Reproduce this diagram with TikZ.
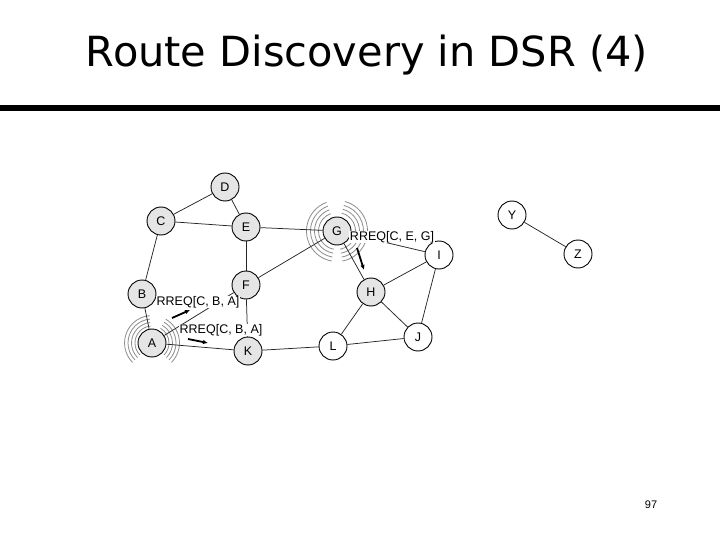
\documentclass[tikz,border=0pt]{standalone}
\usepackage{fontspec}
\setmainfont{Liberation Sans}
\newfontfamily\titlefont{DejaVu Sans}
\usetikzlibrary{arrows.meta}
\begin{document}
\begin{tikzpicture}[x=1pt,y=-1pt,
  nd/.style={circle,draw=black,line width=0.9pt,minimum size=28pt,inner sep=0pt,
    font=\fontsize{12.5}{12.5}\selectfont,fill=white},
  gnd/.style={nd,fill=black!10},
  ed/.style={line width=0.75pt,draw=black!85},
  lab/.style={font=\fontsize{12.5}{13}\selectfont,fill=white,inner sep=0.6pt},
  ring/.style={draw=black!45,line width=0.8pt},
  arr/.style={-{Latex[length=5pt,width=4.5pt]},line width=1.8pt}]
\useasboundingbox (0,0) rectangle (720,540);

% title and rule
\node[anchor=base,font=\titlefont\fontsize{41.5}{44}\selectfont] (title) at (367,67) {Route Discovery in DSR (4)};
\draw[line width=6pt] (0,108) -- (720,108);
\node[font=\fontsize{11}{12}\selectfont] (pg) at (651,505) {97};

% broadcast rings
\foreach \r in {17,20.5,24,27.5}{
  \draw[ring] (152,343) ++(135:\r) arc[start angle=135,end angle=265,radius=\r];
  \draw[ring] (152,343) ++(-60:\r) arc[start angle=-60,end angle=45,radius=\r];
}
\foreach \r in {18.5,22.5,26.5,30.5}{
  \draw[ring] (337,231) ++(100:\r) arc[start angle=100,end angle=250,radius=\r];
  \draw[ring] (337,231) ++(-75:\r) arc[start angle=-75,end angle=80,radius=\r];
}

% nodes
\node[gnd] (D) at (225,187) {D};
\node[gnd] (C) at (161,221) {C};
\node[gnd] (E) at (246,227) {E};
\node[gnd] (G) at (337,231) {G};
\node[nd]  (Y) at (512,215) {Y};
\node[nd]  (I) at (439,255) {I};
\node[nd]  (Z) at (578,254) {Z};
\node[gnd] (B) at (142,294) {B};
\node[gnd] (F) at (246,285) {F};
\node[gnd] (H) at (371,292) {H};
\node[gnd] (A) at (152,343) {A};
\node[gnd] (K) at (248,351) {K};
\node[nd]  (L) at (333,346) {L};
\node[nd]  (J) at (418,337) {J};

% edges
\draw[ed] (C) -- (D);
\draw[ed] (D) -- (E);
\draw[ed] (C) -- (E);
\draw[ed] (C) -- (B);
\draw[ed] (E) -- (F);
\draw[ed] (E) -- (G);
\draw[ed] (F) -- (G);
\draw[ed] (F) -- (K);
\draw[ed] (A) -- (F);
\draw[ed] (B) -- (A);
\draw[ed] (A) -- (K);
\draw[ed] (K) -- (L);
\draw[ed] (L) -- (H);
\draw[ed] (L) -- (J);
\draw[ed] (H) -- (J);
\draw[ed] (H) -- (I);
\draw[ed] (I) -- (J);
\draw[ed] (G) -- (H);
\draw[ed] (G) -- (I);
\draw[ed] (Y) -- (Z);

% labels
\node[lab] (l1) at (198,302) {RREQ[C, B, A]};
\node[lab] (l2) at (221,330) {RREQ[C, B, A]};
\node[lab] (l3) at (392,237) {RREQ[C, E, G]};

% arrows
\coordinate (a1s) at (172,318); \coordinate (a1e) at (190,310);
\coordinate (a2s) at (188,339); \coordinate (a2e) at (208,343);
\coordinate (a3s) at (357,248); \coordinate (a3e) at (364,270);
\draw[arr] (a1s) -- (a1e);
\draw[arr] (a2s) -- (a2e);
\draw[arr] (a3s) -- (a3e);
\end{tikzpicture}
\end{document}
